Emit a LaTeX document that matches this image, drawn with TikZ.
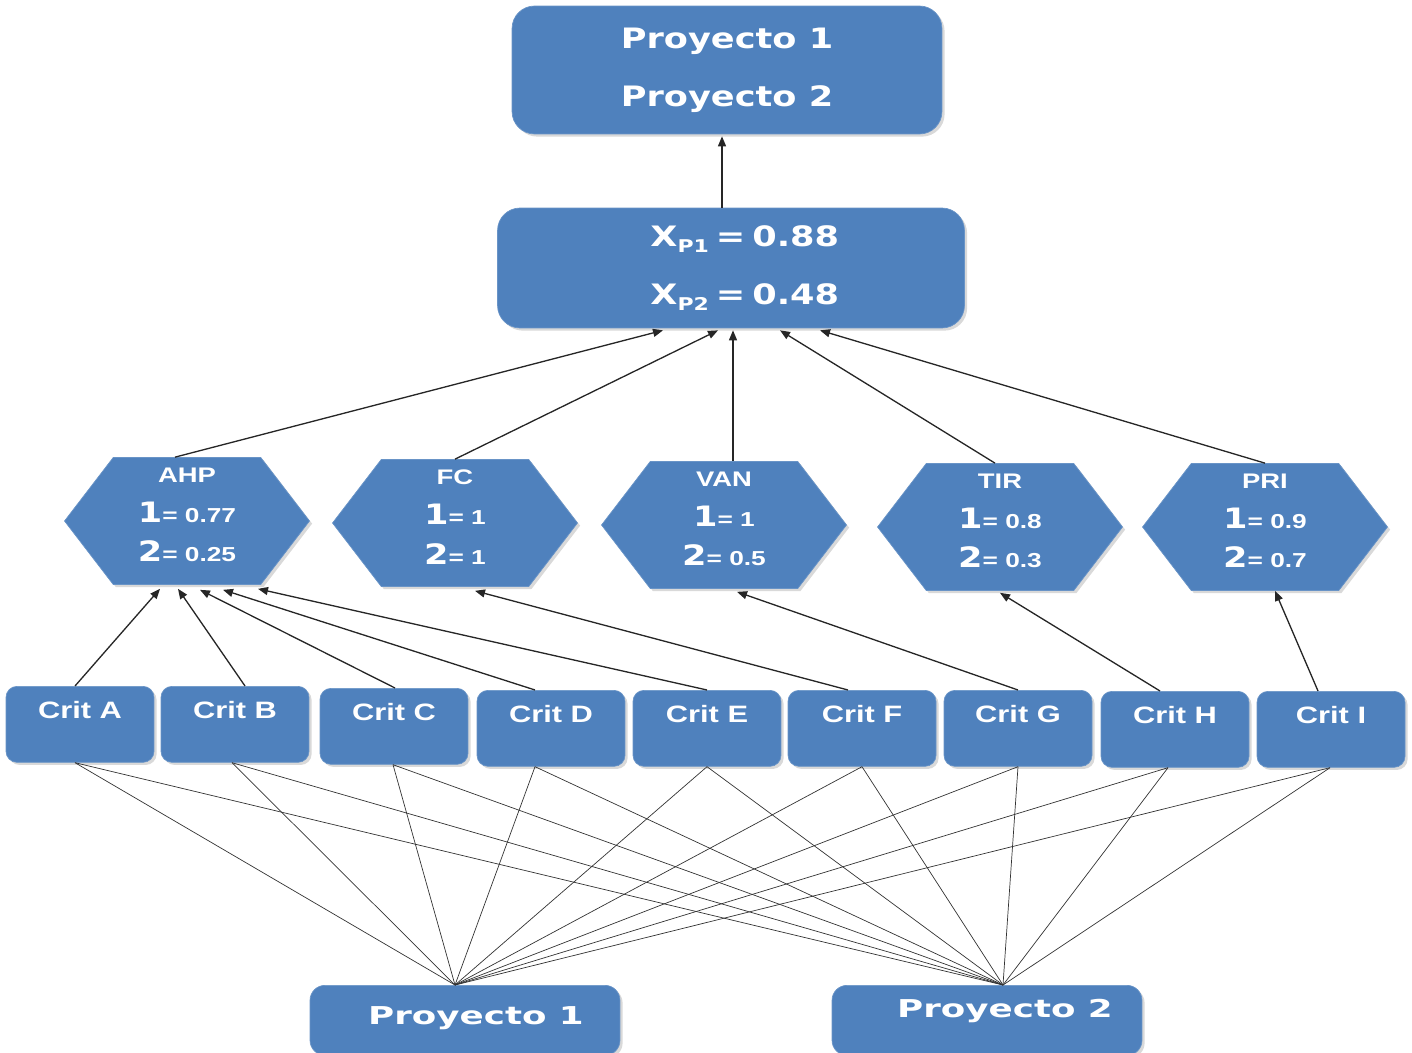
\documentclass[tikz,border=0pt]{standalone}
\usepackage{fontspec}
\setmainfont[FakeStretch=1.3]{Liberation Sans}
\newfontfamily\widefont[FakeStretch=1.25]{DejaVu Sans}
\newfontfamily\lowfont[FakeStretch=1.45]{DejaVu Sans}
\usepackage{tikz}
\usetikzlibrary{calc}
\usetikzlibrary{shapes.symbols,arrows.meta,shadows}
\definecolor{boxblue}{HTML}{4F81BD}
\newcommand{\metodo}[3]{{\fontsize{12}{12}\selectfont #1}\\{\widefont\fontsize{16}{16}\selectfont 1}= #2\\{\widefont\fontsize{16}{16}\selectfont 2}= #3\rule[-7pt]{0pt}{1pt}}
\newcommand{\xval}[2]{\hspace*{0.55cm}X\raisebox{-3.5pt}{\fontsize{10}{10}\selectfont P#1}\hspace{0.25em}=\hspace{0.25em}#2}
\tikzset{
  caja/.style={fill=boxblue, draw=boxblue!85!white, text=white, drop shadow={shadow xshift=1.5pt, shadow yshift=-1.5pt, opacity=0.3}},
  hexa/.style={caja, signal, signal to=east and west, signal pointer angle=105, minimum width=4.9cm, minimum height=2.54cm, inner sep=0pt, align=center, font=\bfseries\fontsize{11.5}{22.7pt}\selectfont},
  crit/.style={caja, rounded corners=0.22cm, minimum width=2.96cm, inner ysep=0pt, text height=0.64cm, text depth=0.88cm, anchor=north, font=\bfseries\fontsize{13.5}{14}\selectfont},
  proy/.style={caja, rounded corners=0.3cm, minimum width=6.2cm, inner ysep=0pt, anchor=north, font=\lowfont\bfseries\fontsize{14}{14}\selectfont},
  flecha/.style={-{Triangle[length=0.2cm,width=0.16cm]}, line width=0.75pt, black!85},
  enlace/.style={line width=0.4pt, black!80}
}
\begin{document}
\begin{tikzpicture}[x=0.02cm, y=-0.02cm]
    \useasboundingbox (0,0) rectangle (1412,1053);
    %resultado
    \node[caja, rounded corners=0.45cm, minimum width=8.6cm, minimum height=2.56cm, align=center, font=\widefont\bfseries\fontsize{16}{33}\selectfont] (final) at (727,70) {Proyecto 1\\Proyecto 2};
    \node[caja, rounded corners=0.45cm, minimum width=9.34cm, minimum height=2.4cm, align=center, font=\widefont\bfseries\fontsize{16}{33}\selectfont] (puntaje) at (731,268) {\xval{1}{0.88}\\\xval{2}{0.48}};
    %metodos
    \node[hexa] (ahp) at (187,521) {\metodo{AHP}{0.77}{0.25}};
    \node[hexa] (fc) at (455,523) {\metodo{FC}{1}{1}};
    \node[hexa] (van) at (724,525) {\metodo{VAN}{1}{0.5}};
    \node[hexa] (tir) at (1000,527) {\metodo{TIR}{0.8}{0.3}};
    \node[hexa] (pri) at (1265,527) {\metodo{PRI}{0.9}{0.7}};
    %criterios
    \foreach \n/\x/\y in {A/80/686, B/235/686, C/394/688, D/551/690, E/707/690, F/862/690, G/1018/690, H/1175/691, I/1331/691}
        \node[crit] (crit\n) at (\x,\y) {Crit \n};
    %proyectos
    \node[proy, text height=0.78cm, text depth=0.62cm] (proy1) at (465,985) {\hspace*{0.44cm}Proyecto 1};
    \node[proy, text height=0.64cm, text depth=0.76cm] (proy2) at (987,985) {\hspace*{0.72cm}Proyecto 2};
    \coordinate (p1) at ($(proy1.north)+(-10,0)$);
    \coordinate (p2) at ($(proy2.north)+(16,0)$);
    \foreach \n/\db in {A/-5, B/-3, C/-1, D/-16, E/0, F/0, G/0, H/-7, I/-1} {
        \draw[enlace] ($(crit\n.south)+(\db,0)$) -- (p1);
        \draw[enlace] ($(crit\n.south)+(\db,0)$) -- (p2);}
    \foreach \n/\dt/\m/\dm/\dy in {A/-5/ahp/-27/4, B/10/ahp/-9/4, C/1/ahp/13/5, D/-16/ahp/36/5, E/0/ahp/71/4, F/-14/fc/20/4, G/0/van/13/3, H/-15/tir/0/2, I/-13/pri/10/0}
        \draw[flecha] ($(crit\n.north)+(\dt,0)$) -- ($(\m.south)+(\dm,\dy)$);
    \foreach \m/\ds/\dx in {ahp/-12/-68, fc/0/-13, van/9/2, tir/-5/49, pri/0/89}
        \draw[flecha] ($(\m.north)+(\ds,0)$) -- ($(puntaje.south)+(\dx,2)$);
    \draw[flecha] ($(puntaje.north)+(-9,0)$) -- ($(final.south)+(-5,2)$);
\end{tikzpicture}
\end{document}
